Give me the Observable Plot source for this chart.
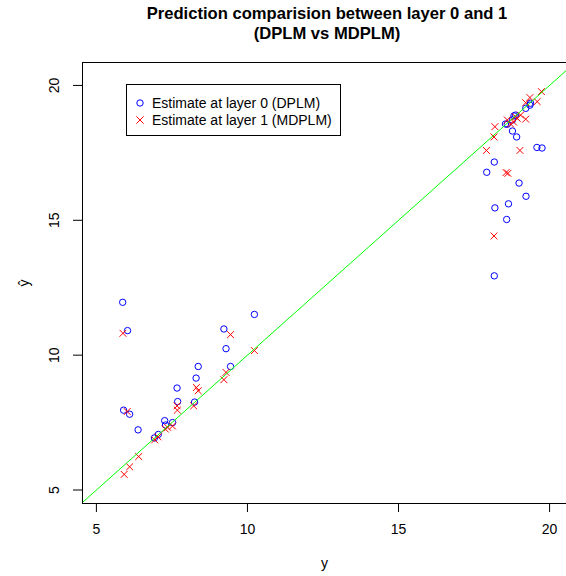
<!DOCTYPE html>
<html><head><meta charset="utf-8">
<script src="https://cdn.jsdelivr.net/npm/d3@7"></script>
<script src="https://cdn.jsdelivr.net/npm/@observablehq/plot@0.6"></script>
<style>
html,body{margin:0;padding:0;background:#fff;overflow:hidden;}
body{width:566px;height:576px;position:relative;font-family:"Liberation Sans",Arial,sans-serif;}
#title{height:50px;box-sizing:border-box;padding-top:4px;padding-left:88px;text-align:center;font-weight:bold;font-size:16.6px;line-height:20px;color:#000;}
#legend{position:absolute;left:126px;top:84px;width:215px;height:52px;border:1px solid #000;box-sizing:border-box;font-size:14px;background:#fff;}
#legend .row{position:absolute;left:0;height:16px;line-height:16px;white-space:nowrap;}
#legend svg{position:absolute;left:6px;top:1px;}
#legend span{position:absolute;left:25px;top:0;}
#chart svg{display:block;overflow:visible;}
</style></head>
<body>
<div id="title">Prediction comparision between layer 0 and 1<br>(DPLM vs MDPLM)</div>
<div id="chart"></div>
<div id="legend">
  <div class="row" style="top:10px"><svg width="14" height="14"><circle cx="7" cy="7" r="3.2" fill="none" stroke="#0000ff"/></svg><span>Estimate at layer 0 (DPLM)</span></div>
  <div class="row" style="top:27px"><svg width="14" height="14"><path d="M3.4,3.4L10.6,10.6M3.4,10.6L10.6,3.4" stroke="#ff0000"/></svg><span>Estimate at layer 1 (MDPLM)</span></div>
</div>
<script>
// Observed y (x position) and estimate (y position), layer 0 (DPLM, circles)
const layer0X = [5.87, 6.03, 5.90, 6.10, 6.38, 6.92, 7.05, 7.26, 7.29, 7.52, 7.67, 7.69, 8.25, 8.30, 8.37, 9.22, 9.29, 9.44, 10.23,
  18.17, 17.92, 18.99, 19.22, 18.64, 18.19, 18.58, 18.17, 19.58, 19.75, 18.77, 18.91, 19.37, 19.21, 18.87, 18.60, 18.77, 19.35, 18.54, 18.82];
const layer0Y = [11.96, 10.91, 7.96, 7.81, 7.23, 6.93, 7.06, 7.57, 7.41, 7.50, 8.78, 8.28, 8.26, 9.15, 9.58, 10.97, 10.24, 9.58, 11.51,
  17.16, 16.78, 16.38, 15.89, 15.61, 15.46, 15.03, 12.94, 17.70, 17.68, 18.31, 18.09, 19.34, 19.15, 18.90, 18.56, 18.72, 19.27, 18.57, 18.87];
// layer 1 (MDPLM, crosses)
const layer1X = [5.88, 6.02, 5.92, 6.10, 6.40, 6.93, 7.04, 7.28, 7.36, 7.52, 7.67, 7.68, 8.22, 8.31, 8.37, 9.44, 9.22, 9.29, 10.23,
  18.16, 18.62, 18.56, 19.02, 17.91, 18.16, 18.19, 19.21, 19.73, 19.35, 19.59, 19.21, 18.87, 18.93, 18.60, 18.71, 18.81, 19.04];
const layer1Y = [10.81, 7.91, 5.58, 5.86, 6.24, 6.86, 6.97, 7.26, 7.32, 7.37, 8.12, 7.96, 8.12, 8.80, 8.68, 10.76, 9.09, 9.36, 10.17,
  14.42, 16.74, 16.77, 17.59, 17.59, 18.09, 18.47, 18.75, 19.77, 19.55, 19.40, 19.36, 18.84, 18.78, 18.72, 18.57, 18.64, 18.90];
const xTicks = [5, 10, 15, 20];
const yTicks = [5, 10, 15, 20];
const xDomain = [4.54, 20.56];
const yDomain = [4.5, 20.85];

const d0 = layer0X.map((x, i) => ({x, y: layer0Y[i]}));
const d1 = layer1X.map((x, i) => ({x, y: layer1Y[i]}));
const ident = [{v: Math.min(xDomain[0], yDomain[0])}, {v: Math.max(xDomain[1], yDomain[1])}];

const chart = Plot.plot({
  width: 566,
  height: 526,
  marginTop: 12,
  marginBottom: 73,
  marginLeft: 82,
  marginRight: 0,
  style: {fontFamily: "Liberation Sans, Arial, sans-serif", fontSize: "14px", color: "#000", background: "#fff"},
  x: {domain: xDomain},
  y: {domain: yDomain},
  marks: [
    Plot.dot(d0, {x: "x", y: "y", r: 3.2, stroke: "#0000ff", fill: "none", strokeWidth: 1}),
    Plot.dot(d1, {x: "x", y: "y", r: 3.2, symbol: "times", stroke: "#ff0000", fill: "none", strokeWidth: 1}),
    Plot.line(ident, {x: "v", y: "v", stroke: "#00ff00", strokeWidth: 1, clip: true}),
    Plot.ruleY([yDomain[1]], {stroke: "#000"}),
    Plot.ruleY([yDomain[0]], {stroke: "#000"}),
    Plot.ruleX([xDomain[0]], {stroke: "#000"}),
    Plot.axisX({ticks: xTicks, tickSize: 9, tickPadding: 12, tickFormat: d => String(d), label: "y", labelArrow: false, labelAnchor: "center", labelOffset: 64, fontSize: 14}),
    Plot.axisY({ticks: yTicks, tickSize: 9, tickPadding: 15, tickRotate: -90, tickFormat: d => String(d), label: "ŷ", labelArrow: false, labelAnchor: "center", labelOffset: 63, fontSize: 14})
  ]
});
document.getElementById("chart").appendChild(chart);
</script>
</body></html>
